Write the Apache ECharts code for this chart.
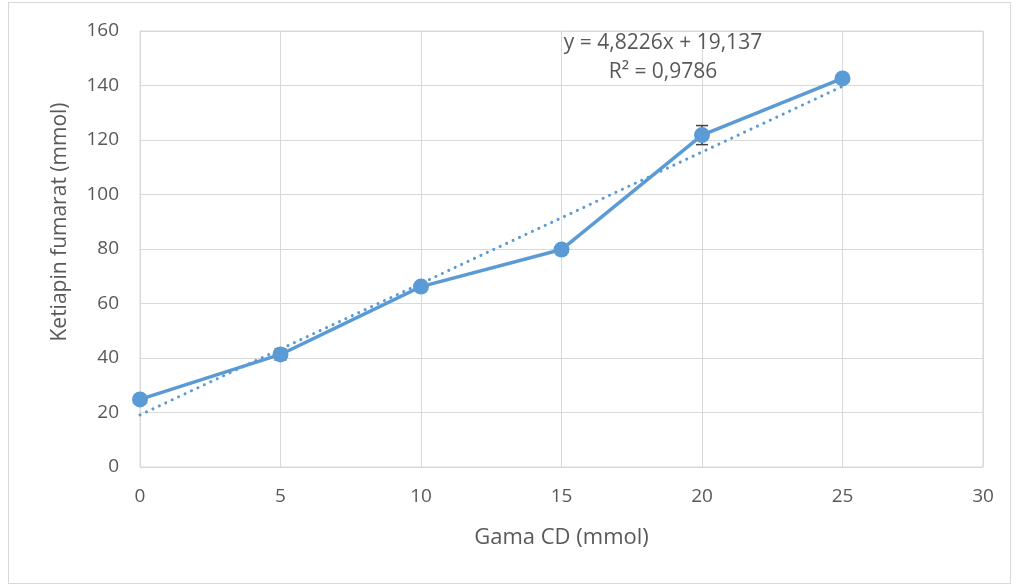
<!DOCTYPE html>
<html>
<head>
<meta charset="utf-8">
<script src="https://cdn.jsdelivr.net/npm/echarts@6/dist/echarts.min.js"></script>
<style>
  html, body { margin: 0; padding: 0; background: #fff; }
  #frame { position: absolute; left: 8px; top: 2px; width: 1003px; height: 582px; border: 1px solid #d9d9d9; box-sizing: border-box; }
  #chart { position: absolute; left: 0; top: 0; width: 1020px; height: 587px; }
</style>
</head>
<body>
<div id="frame"></div>
<div id="chart"></div>
<script>
// Gama CD concentration (mmol) vs dissolved Ketiapin fumarat (mmol)
const gamaCD = [0, 5, 10, 15, 20, 25];
const ketiapin = [24.8, 41.3, 66.2, 79.8, 121.8, 142.6];
const errorSD = [0.3, 2.0, 0.3, 0.3, 3.5, 0.3];
const xTicks = [0, 5, 10, 15, 20, 25, 30];
const yTicks = [0, 20, 40, 60, 80, 100, 120, 140, 160];

// Linear trendline as reported
const slope = 4.8226;
const intercept = 19.137;
const rSquared = 0.9786;

const fmt = (v, d) => v.toFixed(d).replace('.', ',');
const trend = [gamaCD[0], gamaCD[gamaCD.length - 1]].map(x => [x, slope * x + intercept]);
const points = gamaCD.map((x, i) => [x, ketiapin[i]]);
const errors = gamaCD.map((x, i) => [x, ketiapin[i] - errorSD[i], ketiapin[i] + errorSD[i]]);

const FONT = '"Open Sans", "Noto Sans", sans-serif';
const chart = echarts.init(document.getElementById('chart'));
chart.setOption({
  animation: false,
  backgroundColor: 'transparent',
  grid: { left: 140, right: 37, top: 31, bottom: 120, show: true, borderColor: '#d9d9d9', borderWidth: 1 },
  xAxis: {
    type: 'value', min: xTicks[0], max: xTicks[xTicks.length - 1], interval: 5,
    name: 'Gama CD (mmol)', nameLocation: 'middle', nameGap: 60,
    nameTextStyle: { fontFamily: FONT, fontSize: 22, color: '#595959' },
    axisLine: { show: false }, axisTick: { show: false },
    axisLabel: { fontFamily: FONT, fontSize: 19, color: '#595959', margin: 20 },
    splitLine: { show: true, lineStyle: { color: '#d9d9d9', width: 1 } }
  },
  yAxis: {
    type: 'value', min: yTicks[0], max: yTicks[yTicks.length - 1], interval: 20,
    axisLine: { show: false }, axisTick: { show: false },
    axisLabel: { fontFamily: FONT, fontSize: 19, color: '#595959', margin: 21 },
    splitLine: { show: true, lineStyle: { color: '#d9d9d9', width: 1 } }
  },
  series: [
    {
      type: 'line', data: trend, symbol: 'none', z: 2,
      lineStyle: { color: '#5b9bd5', width: 3, type: [0.1, 7], cap: 'round' }
    },
    {
      type: 'custom', data: errors, z: 3,
      renderItem: function (params, api) {
        const lo = api.coord([api.value(0), api.value(1)]);
        const hi = api.coord([api.value(0), api.value(2)]);
        const w = 6;
        const style = { stroke: '#404040', lineWidth: 1.5 };
        return {
          type: 'group',
          children: [
            { type: 'line', shape: { x1: lo[0], y1: lo[1], x2: hi[0], y2: hi[1] }, style: style },
            { type: 'line', shape: { x1: lo[0] - w, y1: lo[1], x2: lo[0] + w, y2: lo[1] }, style: style },
            { type: 'line', shape: { x1: hi[0] - w, y1: hi[1], x2: hi[0] + w, y2: hi[1] }, style: style }
          ]
        };
      }
    },
    {
      type: 'line', data: points, symbol: 'circle', symbolSize: 16, z: 4,
      lineStyle: { color: '#5b9bd5', width: 3.5 },
      itemStyle: { color: '#5b9bd5' }
    }
  ],
  graphic: [
    {
      // y-axis title
      type: 'text', x: 60, y: 222, rotation: Math.PI / 2, z: 10,
      style: {
        text: 'Ketiapin fumarat (mmol)',
        font: '21px ' + FONT, fill: '#595959', align: 'center', verticalAlign: 'middle'
      }
    },
    {
      type: 'text', x: 663, y: 43, z: 10,
      style: {
        text: 'y = ' + fmt(slope, 4) + 'x + ' + fmt(intercept, 3),
        font: '21px ' + FONT, fill: '#595959', align: 'center', verticalAlign: 'middle'
      }
    },
    {
      type: 'text', x: 663, y: 72, z: 10,
      style: {
        text: 'R² = ' + fmt(rSquared, 4),
        font: '21px ' + FONT, fill: '#595959', align: 'center', verticalAlign: 'middle'
      }
    }
  ]
});
</script>
</body>
</html>
